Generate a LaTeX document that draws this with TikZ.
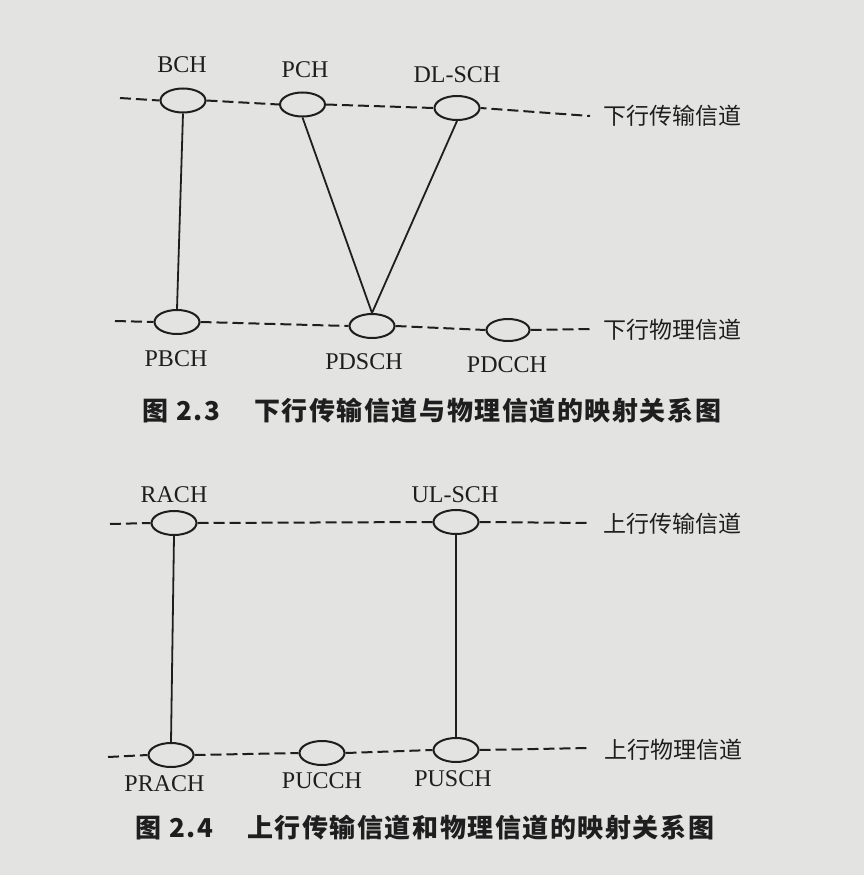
\documentclass[tikz,border=0pt]{standalone}
\usepackage{fontspec}
\setmainfont{Liberation Serif}
\newfontfamily\cjk{Noto Sans CJK SC}
\newfontfamily\capfont[LetterSpace=6.0]{Noto Sans CJK SC}
\usetikzlibrary{shapes.geometric}
\definecolor{paper}{RGB}{227,228,226}
\definecolor{ink}{RGB}{30,30,30}
\begin{document}
\begin{tikzpicture}[x=1pt,y=-1pt,
  ch/.style={draw=ink, line width=2pt, ellipse, minimum width=45pt, minimum height=24pt, inner sep=0pt},
  lbl/.style={font=\fontsize{24}{28}\selectfont, text=ink, inner sep=0pt},
  side/.style={font=\cjk\fontsize{23}{27}\selectfont, text=ink, anchor=west, inner sep=0pt},
  figcap/.style={font=\capfont\bfseries\fontsize{26}{30}\selectfont, text=ink, anchor=west, inner sep=0pt},
  dsh/.style={draw=ink, line width=2pt, dash pattern=on 11pt off 5pt},
  sol/.style={draw=ink, line width=1.8pt}]
\fill[paper] (0,0) rectangle (864,875);
\useasboundingbox (0,0) rectangle (864,875);

% ---------- Figure 2.3 ----------
\node[ch] (bch) at (183,100.5) {};
\node[ch] (pch) at (302.5,104.5) {};
\node[ch] (dlsch) at (457,108) {};
\node[ch] (pbch) at (177,322) {};
\node[ch] (pdsch) at (372,326) {};
\node[ch, minimum width=43pt, minimum height=22pt] (pdcch) at (508,330) {};

\node[lbl] (lbch) at (182,65) {BCH};
\node[lbl] (lpch) at (305,70) {PCH};
\node[lbl] (ldlsch) at (457,75) {DL-SCH};
\node[lbl] (lpbch) at (176,359) {PBCH};
\node[lbl] (lpdsch) at (364,362) {PDSCH};
\node[lbl] (lpdcch) at (507,365) {PDCCH};

\coordinate (tl) at (120,98);
\coordinate (tr) at (590,116);
\coordinate (bl) at (115,321);
\coordinate (br) at (590,329);

\draw[dsh] (tl) -- (bch.west);
\draw[dsh] (bch.east) -- (pch.west);
\draw[dsh] (pch.east) -- (dlsch.west);
\draw[dsh, dash phase=5pt] (dlsch.east) -- (tr);
\draw[dsh] (bl) -- (pbch.west);
\draw[dsh] (pbch.east) -- (pdsch.west);
\draw[dsh] (pdsch.east) -- (pdcch.west);
\draw[dsh] (pdcch.east) -- (br);

\draw[sol] (bch.south) -- (pbch.north);
\draw[sol] (pch.south) -- (pdsch.north);
\draw[sol] (dlsch.south) -- (pdsch.north);

\node[side] (dtrans) at (603,116) {下行传输信道};
\node[side] (dphys) at (603,330) {下行物理信道};
\node[figcap] (cap23) at (142,411) {图\hspace{8pt}2.3\hspace{34pt}下行传输信道与物理信道的映射关系图};

% ---------- Figure 2.4 ----------
\node[ch] (rach) at (174,523) {};
\node[ch] (ulsch) at (456,522) {};
\node[ch] (prach) at (171,755) {};
\node[ch] (pucch) at (322,753) {};
\node[ch] (pusch) at (456,750) {};

\node[lbl] (lrach) at (174,495) {RACH};
\node[lbl] (lulsch) at (455,495) {UL-SCH};
\node[lbl] (lprach) at (164.5,784) {PRACH};
\node[lbl] (lpucch) at (322,781) {PUCCH};
\node[lbl] (lpusch) at (453,779) {PUSCH};

\coordinate (utl) at (110,524);
\coordinate (utr) at (590,523);
\coordinate (ubl) at (108,757);
\coordinate (ubr) at (590,748);

\draw[dsh] (utl) -- (rach.west);
\draw[dsh] (rach.east) -- (ulsch.west);
\draw[dsh] (ulsch.east) -- (utr);
\draw[dsh] (ubl) -- (prach.west);
\draw[dsh] (prach.east) -- (pucch.west);
\draw[dsh] (pucch.east) -- (pusch.west);
\draw[dsh] (pusch.east) -- (ubr);

\draw[sol] (rach.south) -- (prach.north);
\draw[sol] (ulsch.south) -- (pusch.north);

\node[side] (utrans) at (603,524) {上行传输信道};
\node[side] (uphys) at (604,750) {上行物理信道};
\node[figcap] (cap24) at (135,828) {图\hspace{8pt}2.4\hspace{34pt}上行传输信道和物理信道的映射关系图};
\end{tikzpicture}
\end{document}
